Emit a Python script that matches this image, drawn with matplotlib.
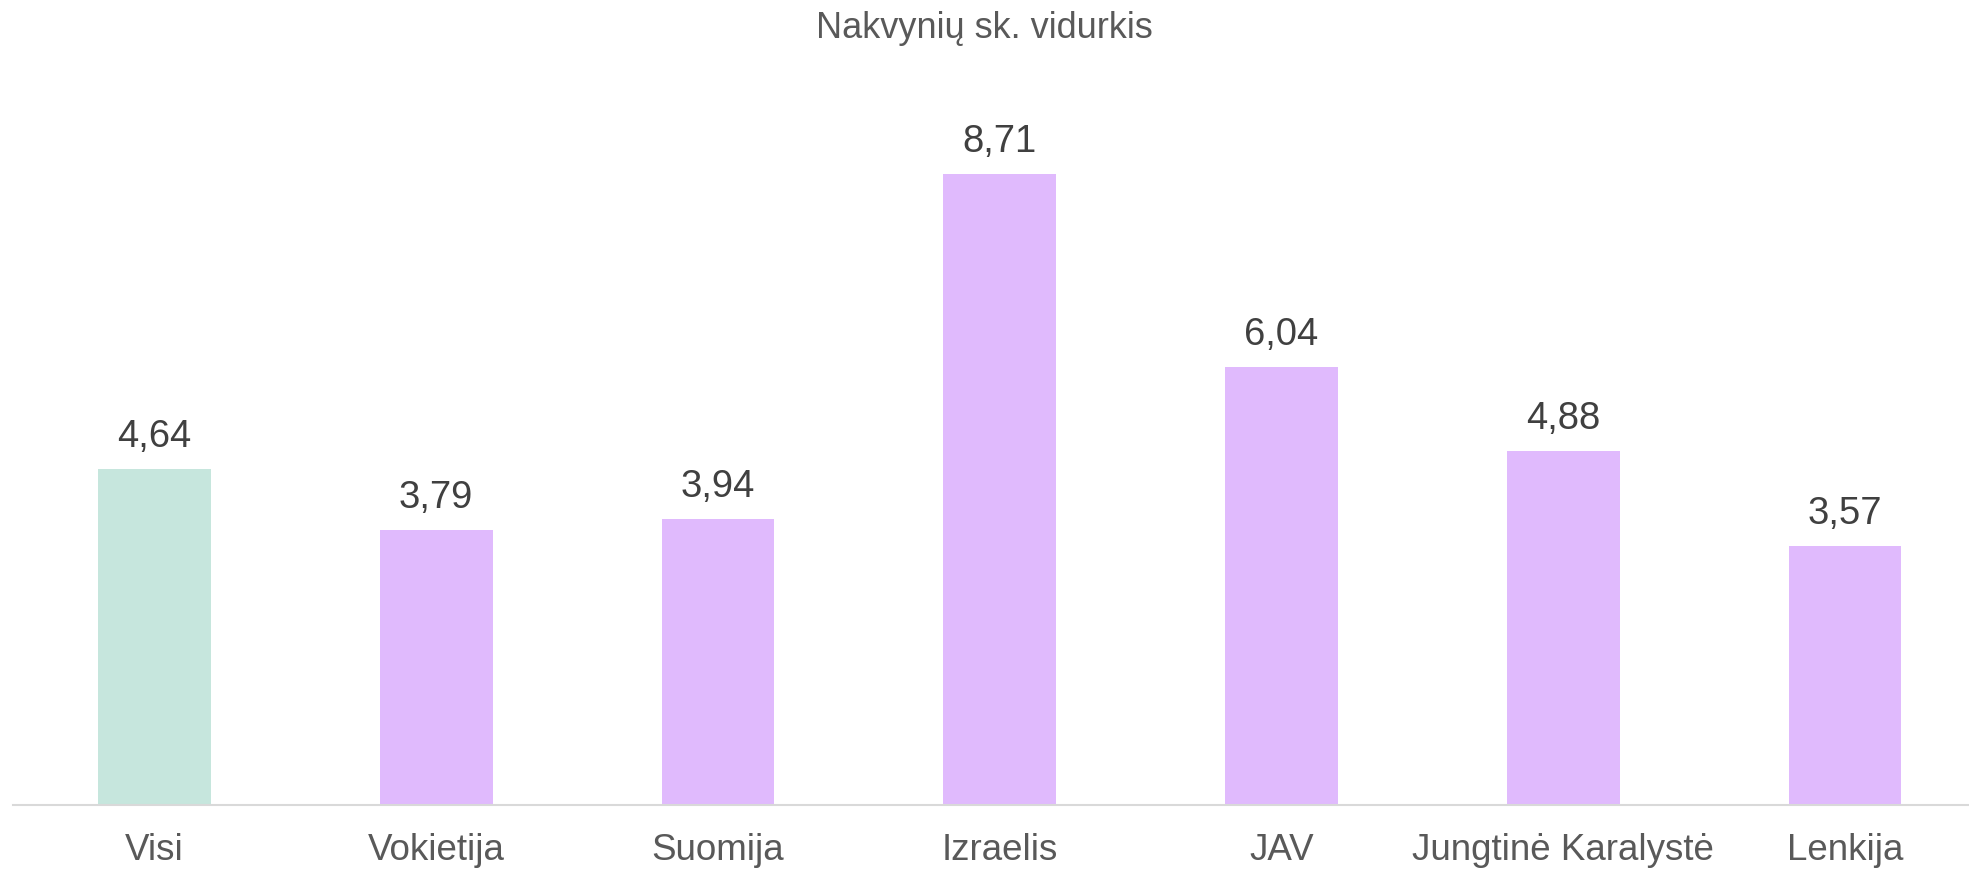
import matplotlib.pyplot as plt

plt.rcParams['font.family'] = ['Liberation Sans', 'DejaVu Sans']

# duomenys
salys = ['Visi', 'Vokietija', 'Suomija', 'Izraelis', 'JAV', 'Jungtinė Karalystė', 'Lenkija']
vidurkiai = [4.64, 3.79, 3.94, 8.71, 6.04, 4.88, 3.57]
spalvos = ['#C6E6DD', '#E0BAFD', '#E0BAFD', '#E0BAFD', '#E0BAFD', '#E0BAFD', '#E0BAFD']

fig = plt.figure(figsize=(19.69, 8.69), dpi=100)
ax = fig.add_axes([13 / 1969, 64 / 869, 1 - 13 / 1969, 705 / 869])

x = range(len(salys))
ax.bar(x, vidurkiai, width=0.40, color=spalvos, zorder=2)

for i, v in zip(x, vidurkiai):
    ax.annotate(f'{v:.2f}'.replace('.', ','), (i, v), xytext=(0, 10),
                textcoords='offset points', ha='center', va='bottom',
                fontsize=27.5, color='#404040')

ax.set_xlim(-0.502, 6.44)
ax.set_ylim(0, 705 / 72.5)
ax.set_xticks(list(x))
ax.set_xticklabels(salys, fontsize=26.5, color='#595959')
ax.tick_params(axis='x', length=0, pad=20)
ax.set_yticks([])
for s in ['top', 'left', 'right']:
    ax.spines[s].set_visible(False)
ax.spines['bottom'].set_color('#D9D9D9')
ax.spines['bottom'].set_linewidth(1.5)

fig.text(0.5, 1 - 29 / 869, 'Nakvynių sk. vidurkis', ha='center', va='center',
         fontsize=26, color='#595959')

fig.savefig('out.png', dpi=100)
